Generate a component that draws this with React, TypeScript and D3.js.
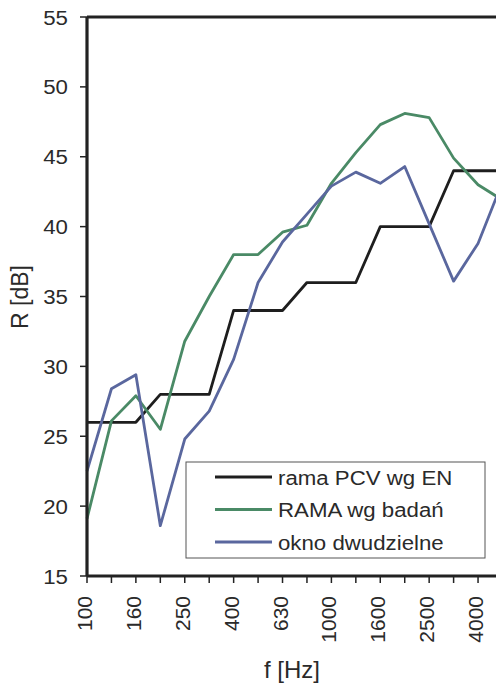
import React from "react";
import * as d3 from "d3";

const freqs = ["100","125","160","200","250","315","400","500","630","800","1000","1250","1600","2000","2500","3150","4000","5000"];
const tickLabels = ["100","160","250","400","630","1000","1600","2500","4000"];
const ramaEN = [26,26,26,28,28,28,34,34,34,36,36,36,40,40,40,44,44,44];
const ramaBadan = [19.1,26.1,27.9,25.5,31.8,35,38,38,39.6,40.1,43.1,45.3,47.3,48.1,47.8,44.9,43,41.9];
const okno = [22.5,28.4,29.4,18.6,24.8,26.8,30.5,36,38.9,40.9,42.9,43.9,43.1,44.3,40.2,36.1,38.8,43.2];
const yTicks = [15,20,25,30,35,40,45,50,55];
const seriesNames = ["rama PCV wg EN","RAMA wg badań","okno dwudzielne"];
const seriesColors = ["#1e1e1e","#4a8a66","#5a679e"];

export default function App() {
  const W = 496, H = 683;
  const left = 87, top = 17, bottom = 576;
  const step = 24.44;
  const x = d3.scalePoint<string>().domain(freqs).range([left, left + step * (freqs.length - 1)]);
  const y = d3.scaleLinear().domain([15, 55]).range([bottom, top]);
  const line = d3.line<number>().x((_, i) => x(freqs[i])!).y(d => y(d));
  const all = [ramaEN, ramaBadan, okno];
  const font = "Arial, 'Liberation Sans', sans-serif";
  const right = left + step * (freqs.length - 1);
  const tc = "#2a2a2a";
  return (
    <svg width={W} height={H} style={{ position: "absolute", left: 0, top: 0, background: "#fff" }} fontFamily={font}>
      <rect x={0} y={0} width={W} height={H} fill="#fff" />
      {all.map((s, k) => (
        <path key={k} d={line(s)!} fill="none" stroke={seriesColors[k]} strokeWidth={2.8} strokeLinejoin="round" />
      ))}
      <line x1={left} x2={right + 10} y1={top} y2={top} stroke="#222" strokeWidth={3.2} />
      <line x1={left} x2={left} y1={top} y2={bottom} stroke="#222" strokeWidth={3.2} />
      <line x1={left} x2={right + 10} y1={bottom} y2={bottom} stroke="#222" strokeWidth={3.2} />
      {yTicks.map(t => (
        <g key={t}>
          <line x1={left - 7} x2={left} y1={y(t)} y2={y(t)} stroke="#222" strokeWidth={1.5} />
          <text transform={`translate(68,${y(t)}) scale(1.06,1)`} dy="0.36em" textAnchor="end" fontSize={21} fill={tc}>{t}</text>
        </g>
      ))}
      {freqs.map(f => (
        <line key={f} x1={x(f)} x2={x(f)} y1={bottom} y2={bottom + 7} stroke="#222" strokeWidth={1.5} />
      ))}
      {tickLabels.map(f => (
        <text key={f} transform={`translate(${x(f)! + 5},596) rotate(-90)`} textAnchor="end" fontSize={21} fill={tc}>{f}</text>
      ))}
      <text transform="translate(28,297) rotate(-90)" textAnchor="middle" fontSize={23} fill={tc}>R [dB]</text>
      <text x={292} y={678} textAnchor="middle" fontSize={24} fill={tc}>f [Hz]</text>
      <rect x={186} y={462} width={299} height={96} fill="#fff" stroke="#555" strokeWidth={1} />
      {seriesNames.map((n, k) => {
        const ly = 477 + k * 32.5;
        return (
          <g key={n}>
            <line x1={215} x2={272} y1={ly} y2={ly} stroke={seriesColors[k]} strokeWidth={2.8} />
            <text transform={`translate(278,${ly}) scale(1.06,1)`} dy="0.36em" fontSize={21} fill={tc}>{n}</text>
          </g>
        );
      })}
    </svg>
  );
}
